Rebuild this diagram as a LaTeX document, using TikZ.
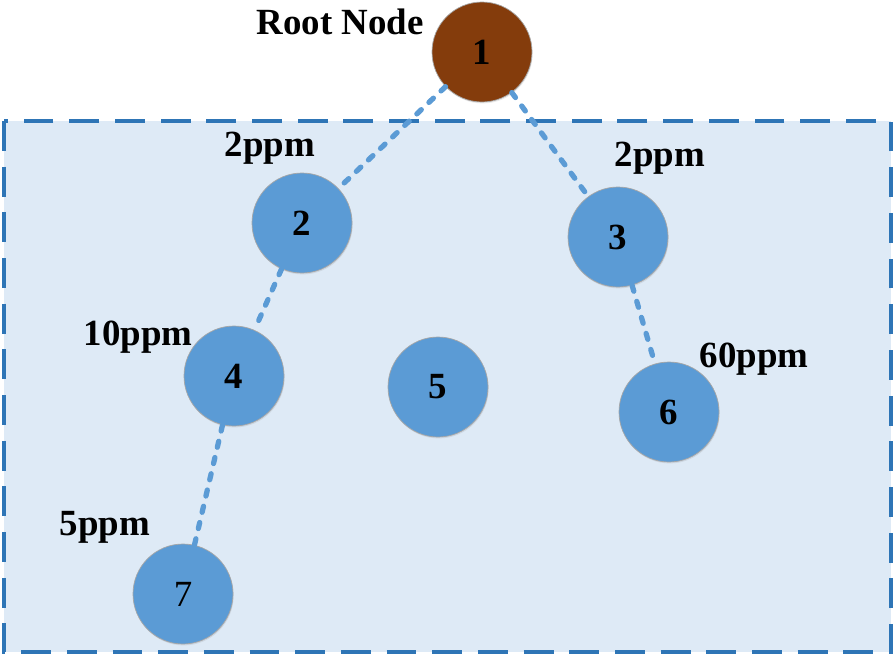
\documentclass[tikz,border=0pt]{standalone}
\usepackage{fontspec}
\setmainfont{Liberation Serif}
\usepackage{tikz}
\usetikzlibrary{shadows}

\definecolor{areafill}{HTML}{DEEAF6}
\definecolor{arealine}{HTML}{2E75B6}
\definecolor{sensor}{HTML}{5B9BD5}
\definecolor{rootfill}{HTML}{843C0C}

\tikzset{
  area/.style={fill=areafill, draw=arealine, line width=2.2pt, dash pattern=on 17pt off 9pt},
  sensornode/.style={circle, fill=sensor, draw=gray!70, line width=0.4pt, minimum size=2cm, inner sep=0pt,
    drop shadow={opacity=0.18, shadow xshift=0.4pt, shadow yshift=-0.8pt},
    font=\fontsize{21}{25}\selectfont\bfseries},
  rootnode/.style={sensornode, fill=rootfill},
  conc/.style={font=\fontsize{21}{25}\selectfont\bfseries},
  link/.style={draw=sensor, line width=3pt, line cap=round, dash pattern=on 3.5pt off 6pt}
}

\begin{document}
\begin{tikzpicture}[x=0.02cm, y=-0.02cm]
  \useasboundingbox (0,0) rectangle (896,659);
  \draw[area] (4,121) rectangle (891,652);

  \node[rootnode]   (n1) at (482,52)  {1};
  \node[sensornode] (n2) at (302,223) {2};
  \node[sensornode] (n3) at (618,237) {3};
  \node[sensornode] (n4) at (234,376) {4};
  \node[sensornode] (n5) at (438,387) {5};
  \node[sensornode] (n6) at (669,412) {6};
  \node[sensornode, font=\fontsize{21}{25}\selectfont] (n7) at (183,594) {7};

  \node[conc] (root) at (340,22)  {Root Node};
  \node[conc] (c2)   at (270,148) {2ppm};
  \node[conc] (c3)   at (660,158) {2ppm};
  \node[conc] (c4)   at (138,337) {10ppm};
  \node[conc] (c6)   at (754,359) {60ppm};
  \node[conc] (c7)   at (105,527) {5ppm};

  \path[link] (n1) edge (n2)
                   edge (n3)
              (n2) edge (n4)
              (n4) edge (n7)
              (n3) edge (n6);
\end{tikzpicture}
\end{document}
